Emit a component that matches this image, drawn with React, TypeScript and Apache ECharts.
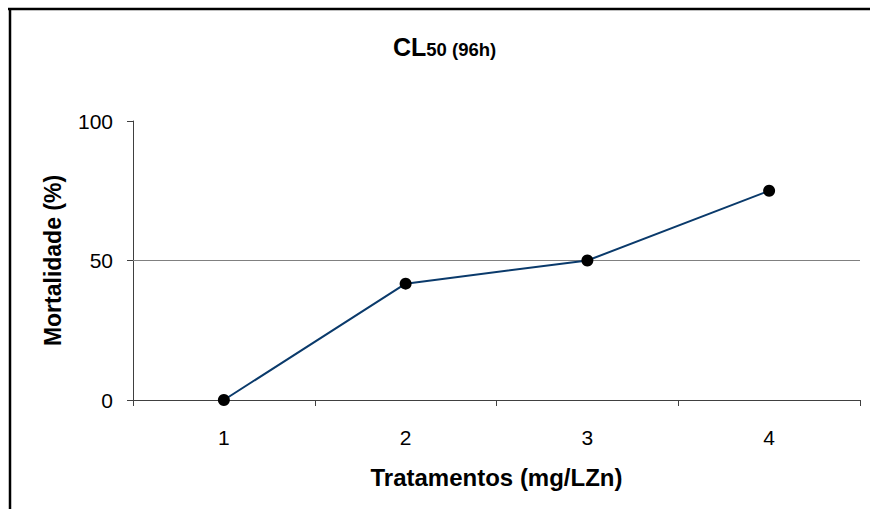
import React, { useEffect, useRef } from "react";
import * as echarts from "echarts";

const categories = ["1", "2", "3", "4"];
const mortalidade = [0, 41.7, 50, 75];
const referenceLine = 50;
const yTicks = { min: 0, max: 100, interval: 50 };

export default function App() {
  const ref = useRef<HTMLDivElement>(null);
  useEffect(() => {
    if (!ref.current) return;
    const chart = echarts.init(ref.current, null, { renderer: "svg" });
    const font = "Liberation Sans, Arial, sans-serif";
    chart.setOption({
      animation: false,
      backgroundColor: "#ffffff",
      title: {
        text: "{a|CL}{b|50 (96h)}",
        left: 393,
        top: 28,
        padding: 0,
        textStyle: {
          rich: {
            a: { fontFamily: font, fontWeight: "bold", fontSize: 25, color: "#000", verticalAlign: "bottom", lineHeight: 30 },
            b: { fontFamily: font, fontWeight: "bold", fontSize: 18.5, color: "#000", padding: [12, 0, 0, 0], verticalAlign: "bottom" },
          },
        },
      },
      grid: { left: 133, right: 10, top: 121, bottom: 109, containLabel: false },
      xAxis: {
        type: "category",
        data: categories,
        boundaryGap: true,
        name: "Tratamentos (mg/LZn)",
        nameLocation: "middle",
        nameGap: 65,
        nameTextStyle: { fontFamily: font, fontWeight: "bold", fontSize: 24, color: "#000" },
        axisLine: { lineStyle: { color: "#404040", width: 1 } },
        axisTick: { show: true, length: 6, inside: false, alignWithLabel: false, lineStyle: { color: "#404040" } },
        axisLabel: { fontFamily: font, fontSize: 21, color: "#000", margin: 27 },
        splitLine: { show: false },
      },
      yAxis: {
        type: "value",
        min: yTicks.min,
        max: yTicks.max,
        interval: yTicks.interval,
        name: "Mortalidade (%)",
        nameLocation: "middle",
        nameGap: 69,
        nameTextStyle: { fontFamily: font, fontWeight: "bold", fontSize: 23, color: "#000" },
        axisLine: { show: true, lineStyle: { color: "#404040", width: 1 } },
        axisTick: { show: true, length: 6, inside: false, lineStyle: { color: "#404040" } },
        axisLabel: { fontFamily: font, fontSize: 21, color: "#000", margin: 20 },
        splitLine: { show: false },
      },
      series: [
        {
          type: "line",
          data: mortalidade,
          symbol: "circle",
          symbolSize: 12,
          itemStyle: { color: "#000000" },
          lineStyle: { color: "#0a3a6b", width: 2 },
          z: 5,
          markLine: {
            silent: true,
            symbol: "none",
            label: { show: false },
            lineStyle: { color: "#808080", width: 1, type: "solid" },
            data: [{ yAxis: referenceLine }],
            z: 1,
          },
        },
      ],
      graphic: [
        { type: "line", shape: { x1: 8, y1: 9, x2: 870, y2: 9 }, style: { stroke: "#000", lineWidth: 2.5 } },
        { type: "line", shape: { x1: 10, y1: 8, x2: 10, y2: 509 }, style: { stroke: "#000", lineWidth: 2.5 } },
      ],
    });
    return () => chart.dispose();
  }, []);
  return (
    <div
      ref={ref}
      style={{ position: "fixed", left: 0, top: 0, width: 870, height: 509, background: "#fff" }}
    />
  );
}
